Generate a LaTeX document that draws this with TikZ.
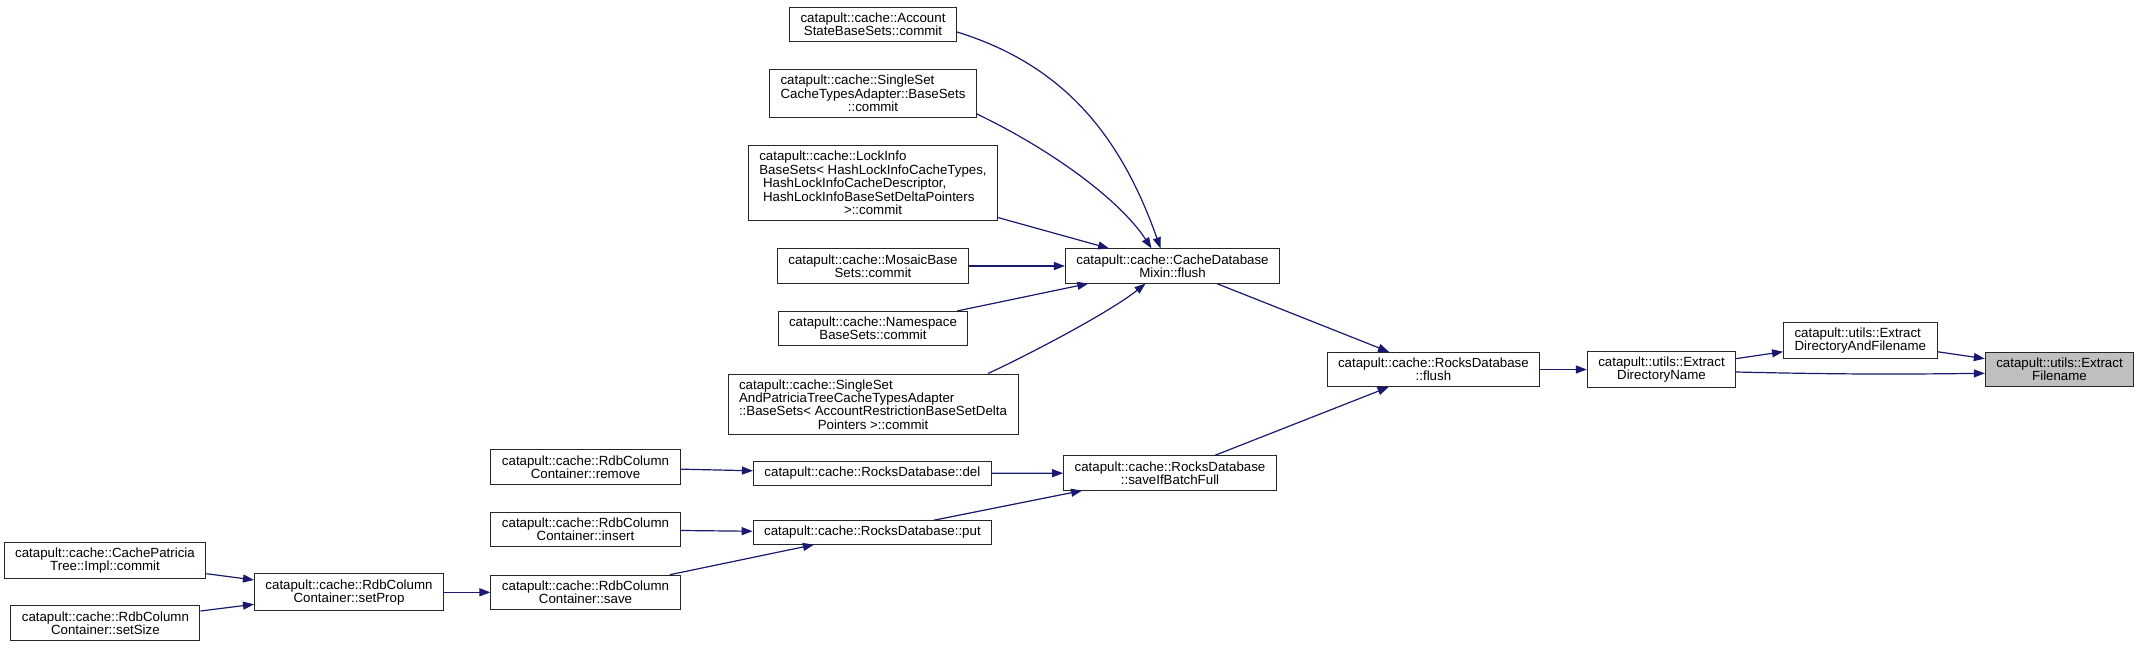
\documentclass[tikz,border=0pt]{standalone}
\usepackage{fontspec}
\setmainfont{Liberation Sans}
\usepackage{tikz}
\usetikzlibrary{arrows.meta}
\definecolor{edgeblue}{HTML}{191970}
\definecolor{markgray}{HTML}{BFBFBF}
\newcommand{\lastline}[1]{\hspace*{\fill}#1\hspace*{\fill}}
\tikzset{
  fnbox/.style={draw=black!85,fill=white,line width=1pt,align=left,
    inner xsep=11pt,inner ysep=5.5pt,font=\fontsize{13.3}{13.4}\selectfont},
  markbox/.style={fnbox,fill=markgray},
  callarrow/.style={-{Triangle[length=11pt,width=8pt,fill=edgeblue]},draw=edgeblue,line width=1.2pt}
}
\begin{document}
\begin{tikzpicture}[x=1pt,y=-1pt]
  \useasboundingbox (0,0) rectangle (2139,648);
  % column of commit callers
  \node[fnbox] (acctcommit) at (873,24.5)
    {catapult::cache::Account\\\lastline{StateBaseSets::commit}};
  \node[fnbox] (singlecommit) at (873,93.5)
    {catapult::cache::SingleSet\\CacheTypesAdapter::BaseSets\\\lastline{::commit}};
  \node[fnbox] (lockcommit) at (873,183)
    {catapult::cache::LockInfo\\BaseSets< HashLockInfoCacheTypes,\\\ HashLockInfoCacheDescriptor,\\\ HashLockInfoBaseSetDeltaPointers\\\lastline{>::commit}};
  \node[fnbox] (mosaiccommit) at (873,266)
    {catapult::cache::MosaicBase\\\lastline{Sets::commit}};
  \node[fnbox] (nscommit) at (873,328.5)
    {catapult::cache::Namespace\\\lastline{BaseSets::commit}};
  \node[fnbox] (patcommit) at (873,404.5)
    {catapult::cache::SingleSet\\AndPatriciaTreeCacheTypesAdapter\\::BaseSets< AccountRestrictionBaseSetDelta\\\lastline{Pointers >::commit}};
  % flush chain
  \node[fnbox] (mixinflush) at (1172.5,266)
    {catapult::cache::CacheDatabase\\\lastline{Mixin::flush}};
  \node[fnbox] (rocksflush) at (1433.4,369.5)
    {catapult::cache::RocksDatabase\\\lastline{::flush}};
  \node[fnbox] (dirname) at (1661.5,369.5)
    {catapult::utils::Extract\\\lastline{DirectoryName}};
  \node[fnbox] (dirfile) at (1860.3,340.5)
    {catapult::utils::Extract\\\lastline{DirectoryAndFilename}};
  \node[markbox] (filename) at (2059.5,369.5)
    {catapult::utils::Extract\\\lastline{Filename}};
  % rocks database writers
  \node[fnbox] (savefull) at (1170,473)
    {catapult::cache::RocksDatabase\\\lastline{::saveIfBatchFull}};
  \node[fnbox] (rocksdel) at (872.4,473.5) {catapult::cache::RocksDatabase::del};
  \node[fnbox] (rocksput) at (872.4,532.5) {catapult::cache::RocksDatabase::put};
  \node[fnbox] (colremove) at (585.5,467)
    {catapult::cache::RdbColumn\\\lastline{Container::remove}};
  \node[fnbox] (colinsert) at (585.5,529.5)
    {catapult::cache::RdbColumn\\\lastline{Container::insert}};
  \node[fnbox] (colsave) at (585.5,592.3)
    {catapult::cache::RdbColumn\\\lastline{Container::save}};
  \node[fnbox] (colsetprop) at (349,592.3)
    {catapult::cache::RdbColumn\\\lastline{Container::setProp}};
  \node[fnbox] (treecommit) at (105,560.5)
    {catapult::cache::CachePatricia\\\lastline{Tree::Impl::commit}};
  \node[fnbox] (colsetsize) at (105.4,623)
    {catapult::cache::RdbColumn\\\lastline{Container::setSize}};

  % calls into mixin flush
  \draw[callarrow] ([yshift=-7.5pt]acctcommit.east)
    .. controls (1056.7,62.8) and (1118,127.6) .. ([xshift=-12pt]mixinflush.north);
  \draw[callarrow] ([yshift=-20.5pt]singlecommit.east)
    .. controls (1051.4,149.7) and (1120,200) .. ([xshift=-21pt]mixinflush.north);
  \draw[callarrow] (lockcommit) -- (mixinflush);
  \draw[callarrow] (mosaiccommit) -- (mixinflush);
  \draw[callarrow] (nscommit) -- (mixinflush);
  \draw[callarrow] ([xshift=115pt]patcommit.north)
    .. controls (1030,354) and (1110,312) .. ([xshift=-27pt]mixinflush.south);
  \draw[callarrow] (mixinflush) -- (rocksflush);
  \draw[callarrow] (savefull) -- (rocksflush);
  \draw[callarrow] (rocksflush) -- (dirname);
  \draw[callarrow] (dirname) -- (dirfile);
  \draw[callarrow] (dirfile) -- (filename);
  \draw[callarrow] ([yshift=-2.5pt]dirname.east) to[bend right=1] ([yshift=-3.8pt]filename.west);
  % calls into saveIfBatchFull
  \draw[callarrow] (rocksdel) -- (savefull);
  \draw[callarrow] (rocksput) -- (savefull);
  \draw[callarrow] (colremove) -- (rocksdel);
  \draw[callarrow] (colinsert) -- (rocksput);
  \draw[callarrow] (colsave) -- (rocksput);
  \draw[callarrow] (colsetprop) -- (colsave);
  \draw[callarrow] (treecommit) -- (colsetprop);
  \draw[callarrow] (colsetsize) -- (colsetprop);
\end{tikzpicture}
\end{document}
